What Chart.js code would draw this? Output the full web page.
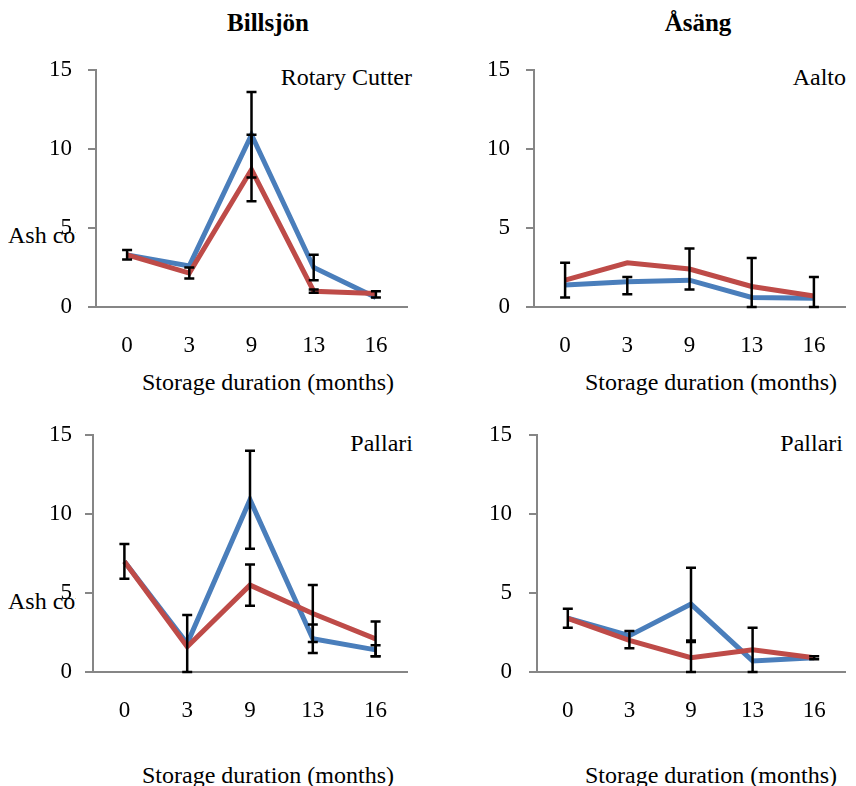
<!DOCTYPE html>
<html>
<head>
<meta charset="utf-8">
<script src="https://cdn.jsdelivr.net/npm/chart.js@4.4.1/dist/chart.umd.min.js"></script>
<style>
  html, body { margin: 0; padding: 0; background: #fff; }
  body { width: 856px; height: 786px; position: relative; overflow: hidden; font-family: "Liberation Serif", "DejaVu Serif", serif; color: #000; }
  canvas { position: absolute; }
  .txt { position: absolute; white-space: nowrap; line-height: 1; font-size: 24px; }
  .col { font-weight: bold; font-size: 25px; transform: translate(-50%, -50%); }
  .mid { transform: translate(-50%, -50%); }
  .rgt { transform: translate(-100%, -50%); }
  .clip { overflow: hidden; width: 68px; transform: translateY(-50%); }
</style>
</head>
<body>
<div class="txt col" style="left:268px; top:22px;">Billsjön</div>
<div class="txt col" style="left:698px; top:22px;">Åsäng</div>

<div class="txt clip" style="left:8px; top:235px;">Ash content (%)</div>
<div class="txt clip" style="left:8px; top:601px;">Ash content (%)</div>

<div class="txt rgt" style="left:412px; top:77px;">Rotary Cutter</div>
<div class="txt rgt" style="left:846px; top:77px;">Aalto</div>
<div class="txt rgt" style="left:413px; top:443px;">Pallari</div>
<div class="txt rgt" style="left:843px; top:443px;">Pallari</div>

<div class="txt mid" style="left:268px; top:382px;">Storage duration (months)</div>
<div class="txt mid" style="left:711px; top:382px;">Storage duration (months)</div>
<div class="txt mid" style="left:268px; top:775px;">Storage duration (months)</div>
<div class="txt mid" style="left:711px; top:775px;">Storage duration (months)</div>

<canvas id="tl"></canvas>
<canvas id="tr"></canvas>
<canvas id="bl"></canvas>
<canvas id="br"></canvas>

<script>
// Storage duration categories (months)
const months = ['0', '3', '9', '13', '16'];
const yTicks = [0, 5, 10, 15];

// Billsjön, Rotary Cutter
const billsjonRotaryBlue = [3.3, 2.6, 10.9, 2.5, 0.6];
const billsjonRotaryRed = [3.3, 2.15, 8.7, 1.0, 0.85];
// error bars: [category index, low, high]
const billsjonRotaryErr = [[0, 3.0, 3.6], [1, 1.8, 2.5], [2, 8.2, 13.6], [2, 6.7, 10.9], [3, 1.7, 3.3], [3, 0.9, 1.1], [4, 0.6, 1.0]];

// Åsäng, Aalto
const asangAaltoBlue = [1.4, 1.6, 1.7, 0.6, 0.55];
const asangAaltoRed = [1.7, 2.8, 2.4, 1.3, 0.7];
const asangAaltoErr = [[0, 0.6, 2.8], [1, 0.8, 1.9], [2, 1.1, 3.7], [3, 0, 3.1], [4, 0, 1.9]];

// Billsjön, Pallari
const billsjonPallariBlue = [7.0, 1.8, 10.9, 2.1, 1.4];
const billsjonPallariRed = [7.0, 1.6, 5.5, 3.7, 2.1];
const billsjonPallariErr = [[0, 5.9, 8.1], [1, 0, 3.6], [2, 7.8, 14.0], [2, 4.2, 6.8], [3, 1.9, 5.5], [3, 1.2, 3.0], [4, 1.0, 3.2], [4, 1.0, 1.7]];

// Åsäng, Pallari
const asangPallariBlue = [3.4, 2.3, 4.3, 0.7, 0.9];
const asangPallariRed = [3.4, 2.0, 0.9, 1.4, 0.9];
const asangPallariErr = [[0, 2.8, 4.0], [1, 1.5, 2.6], [2, 2.0, 6.6], [2, 0, 1.9], [3, 0, 2.8], [4, 0.8, 1.0]];

const BLUE = '#4A7EBB';
const RED = '#BE4B48';
const AXIS = '#868686';
const FONT = '"Liberation Serif", "DejaVu Serif", serif';

// draws the black error bars on top of the lines
const errorBars = {
  id: 'errorBars',
  afterDatasetsDraw(chart, args, opts) {
    const { ctx, scales: { x, y } } = chart;
    ctx.save();
    ctx.strokeStyle = '#000';
    ctx.lineWidth = 2.5;
    ctx.lineCap = 'butt';
    for (const [i, lo, hi] of opts.bars) {
      const px = x.getPixelForValue(i);
      const y1 = y.getPixelForValue(lo);
      const y2 = y.getPixelForValue(hi);
      ctx.beginPath();
      ctx.moveTo(px, y1); ctx.lineTo(px, y2);
      ctx.moveTo(px - 5, y1); ctx.lineTo(px + 5, y1);
      ctx.moveTo(px - 5, y2); ctx.lineTo(px + 5, y2);
      ctx.stroke();
    }
    ctx.restore();
  }
};

// top padding has to beat the y-scale's own label padding (~30px)
const PAD_TOP = 32;

// canvas box, y-axis width, right padding, tick label padding
const makePanel = (id, box, blue, red, bars) => {
  const canvas = document.getElementById(id);
  canvas.width = box.w;
  canvas.height = box.h;
  canvas.style.left = box.left + 'px';
  canvas.style.top = box.top + 'px';

  return new Chart(canvas, {
    type: 'line',
    data: {
      labels: months,
      datasets: [
        { data: blue, borderColor: BLUE, borderWidth: 5, pointRadius: 0, order: 2, tension: 0 },
        { data: red, borderColor: RED, borderWidth: 5, pointRadius: 0, order: 1, tension: 0 },
      ],
    },
    options: {
      responsive: false,
      animation: false,
      events: [],
      layout: { padding: { top: PAD_TOP, right: box.padRight, left: 0, bottom: 0 } },
      plugins: {
        legend: { display: false },
        tooltip: { enabled: false },
        errorBars: { bars },
      },
      scales: {
        x: {
          offset: true,
          grid: { display: false, drawTicks: false },
          border: { display: true, color: AXIS, width: 2 },
          ticks: { color: '#000', padding: 25, font: { family: FONT, size: 23 }, maxRotation: 0 },
          afterFit: (s) => { s.height = 60; },
        },
        y: {
          min: 0,
          max: 15,
          afterBuildTicks: (s) => { s.ticks = yTicks.map(v => ({ value: v })); },
          grid: { drawOnChartArea: false, drawTicks: true, tickLength: 8, color: AXIS, lineWidth: 2 },
          border: { display: true, color: AXIS, width: 2 },
          ticks: { color: '#000', padding: box.tickPad, font: { family: FONT, size: 23 } },
          afterFit: (s) => { s.width = box.yWidth; },
        },
      },
    },
    plugins: [errorBars],
  });
};

// plot areas: top 70..307 and 435..672
makePanel('tl', { left: 0, top: 38, w: 428, h: 329, yWidth: 96, padRight: 21, tickPad: 16 }, billsjonRotaryBlue, billsjonRotaryRed, billsjonRotaryErr);
makePanel('tr', { left: 428, top: 38, w: 428, h: 329, yWidth: 106, padRight: 11, tickPad: 16 }, asangAaltoBlue, asangAaltoRed, asangAaltoErr);
makePanel('bl', { left: 0, top: 403, w: 428, h: 329, yWidth: 93, padRight: 21, tickPad: 13 }, billsjonPallariBlue, billsjonPallariRed, billsjonPallariErr);
makePanel('br', { left: 428, top: 403, w: 428, h: 329, yWidth: 109, padRight: 11, tickPad: 17 }, asangPallariBlue, asangPallariRed, asangPallariErr);
</script>
</body>
</html>
